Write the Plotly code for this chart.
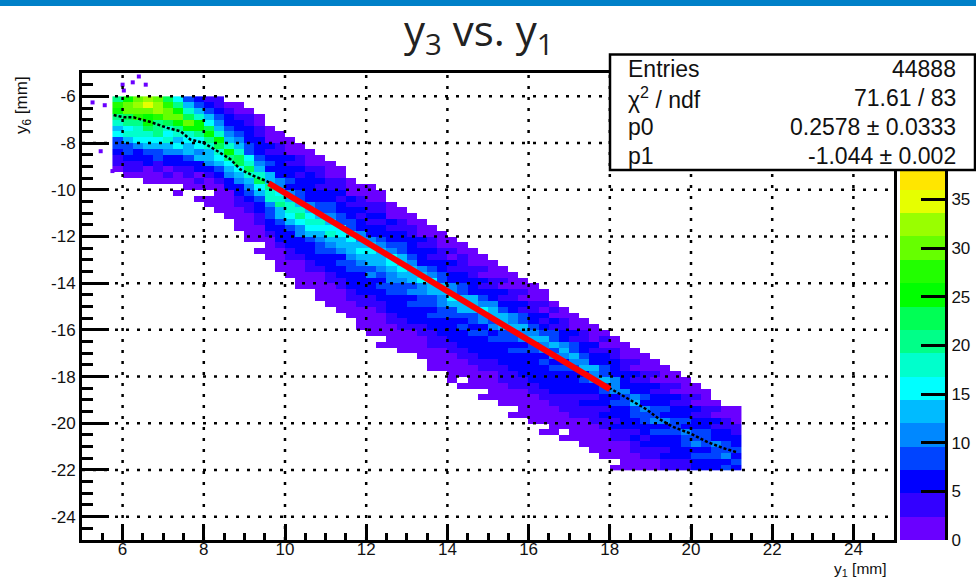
import plotly.graph_objects as go

# ---------- data ----------
x_first_edge = 5.75
y_first_edge = -6.0
bin_size = 0.25
y_last_edge = -22.0

col_top = [-6,-6,-6,-6,-6,-6,-6,-6,-6,-6,-6,-6.25,-6.25,-6.5,-6.75,-7.25,-7.5,-7.75,-8,-8.25,-8.5,-8.75,-9,-9.5,-9.75,-9.75,-10,-10.5,-10.75,-11,-11.25,-11.5,-11.75,-12,-12.25,-12.5,-12.75,-13,-13.25,-13.5,-13.75,-14,-14.25,-14.75,-15,-15.25,-15.5,-15.75,-16,-16.25,-16.5,-16.75,-17,-17.25,-17.5,-17.75,-18,-18.25,-18.5,-19,-19.25,-19.25]
col_counts = [
[21,27,24,20,18,14,15,9,8,7,4,4,2],
[26,31,29,22,20,16,17,12,8,8,5,4,3,1],
[30,33,30,27,21,19,17,15,10,7,7,3,4,1],
[32,35,31,26,24,22,18,16,12,9,5,6,2,2,1],
[30,32,33,27,21,20,21,15,13,8,8,4,3,1,2],
[23,28,31,29,22,19,16,18,12,11,6,6,2,3,1],
[15,21,24,30,25,20,18,13,16,10,7,5,4,1,2,0,1],
[9,13,19,23,29,24,17,15,12,13,8,7,4,3,1,2],
[6,8,12,17,25,26,21,16,15,11,12,7,5,2,3,1,0,1],
[4,7,8,13,15,22,24,20,17,13,14,10,6,4,1,2,0,1,1],
[3,4,7,8,11,13,19,24,23,17,16,12,9,5,4,1,2,1,1,1],
[1,4,5,6,9,10,14,18,25,21,15,13,11,7,6,2,1,2,1,1],
[2,2,4,6,5,8,11,12,17,23,22,16,14,10,6,5,3,3,2,1,1,1],
[1,3,3,5,7,6,9,9,15,18,23,18,13,11,8,7,3,4,2,2,1,1,1],
[1,1,3,4,5,7,6,8,10,14,19,22,16,14,9,6,5,4,3,2,1,1,0,1],
[1,2,2,5,4,6,8,7,12,14,20,18,17,11,9,8,6,5,3,2,2,1,1],
[1,1,3,4,6,5,7,6,10,11,15,18,21,14,12,8,7,5,5,3,1,2,1,1],
[1,2,2,5,4,6,5,8,7,10,12,17,19,16,13,9,6,7,5,3,3,1,1,1],
[1,2,3,3,5,4,7,6,9,9,14,18,20,15,11,10,6,6,5,4,2,2,1,1,1],
[1,2,1,4,5,6,5,7,7,11,13,16,19,15,12,9,7,6,6,4,3,2,1,1],
[1,1,3,3,5,4,7,6,9,9,12,19,16,14,10,8,8,6,5,4,2,2,1,1,1],
[1,2,2,4,4,6,5,8,8,10,14,15,17,13,10,8,6,7,5,4,3,2,1,1,1],
[1,1,3,3,5,4,6,6,9,9,15,16,14,12,11,7,8,6,6,4,3,2,1,1,1],
[1,2,2,5,3,6,5,9,9,13,15,14,12,10,8,9,6,6,5,3,3,2,1,1],
[1,2,3,3,5,4,7,6,10,11,14,15,12,11,8,7,6,6,5,4,3,2,1,1,1],
[1,1,2,4,3,5,4,7,7,11,12,15,13,12,9,10,6,7,6,4,3,2,2,1,1,1],
[1,1,3,3,5,4,6,6,9,10,14,14,13,10,9,7,8,6,5,4,3,2,2,1,1,0,1],
[1,2,2,5,4,7,6,9,10,15,15,13,10,11,8,8,6,6,5,4,3,2,1,1,1],
[1,2,3,3,6,5,8,8,12,13,16,12,11,8,9,6,7,6,5,3,3,2,1,1,1],
[1,1,4,3,5,6,5,9,10,14,13,13,9,10,7,8,6,6,5,3,2,1,1,1],
[1,2,2,5,3,6,7,7,11,12,15,11,11,8,9,6,7,5,4,3,2,2,1,1],
[1,2,3,3,5,4,6,9,10,15,13,13,9,9,7,8,6,5,4,3,3,1,1,1,1],
[1,1,2,4,3,6,5,8,9,14,14,11,11,8,8,6,7,5,4,3,2,1,1,1],
[1,2,3,2,5,4,7,7,11,11,15,12,9,9,6,7,6,5,4,3,2,2,1,1,1],
[1,1,3,3,4,6,5,8,9,14,13,13,9,7,8,5,6,5,4,3,2,1,1,0,1],
[1,2,1,4,3,5,7,6,12,13,14,9,9,7,8,5,6,5,3,3,2,1,1,1],
[1,1,3,2,5,4,6,9,11,15,10,10,7,8,5,6,5,5,3,3,1,1,1,0,1],
[1,2,2,4,3,6,6,10,12,14,9,10,7,8,5,6,5,4,3,2,2,1,1,1],
[1,1,3,2,5,4,7,8,13,12,12,8,9,6,7,5,6,4,3,3,2,1,1,1],
[1,2,1,4,3,6,5,10,11,14,9,9,7,8,5,6,5,4,3,3,1,1,1,0,1],
[1,1,3,2,5,4,8,8,14,11,11,7,8,6,7,5,5,4,3,2,2,1,1,1],
[1,2,2,4,3,6,5,9,11,13,9,9,6,7,5,6,5,4,3,2,1,1,1,1],
[1,1,3,2,5,4,7,8,13,10,10,7,8,5,7,5,5,4,3,2,1,1,1,0,1],
[1,3,2,5,4,8,9,13,9,10,7,8,5,6,5,5,4,3,2,2,1,1,1],
[1,2,4,3,6,6,11,12,11,7,8,6,7,5,5,3,4,3,2,1,1,0,1],
[1,2,2,5,4,8,8,13,10,9,6,7,5,6,3,4,3,3,2,1,1,1],
[1,1,4,3,6,5,9,10,12,7,8,6,7,4,5,3,3,2,2,1,1,1],
[1,2,1,5,3,7,7,12,11,10,6,7,4,6,3,4,3,2,1,2,1,1],
[1,3,2,4,5,5,9,9,13,8,8,5,7,4,5,3,3,2,2,1,1,1],
[1,1,3,3,5,7,6,10,10,11,7,8,5,6,3,5,3,3,1,1,1,0,1],
[1,2,1,4,4,6,7,7,11,9,9,6,7,5,6,3,4,2,2,1,1,1],
[1,1,3,2,5,4,7,6,10,12,8,8,6,7,4,5,3,3,1,1,1],
[1,2,1,4,3,6,5,8,7,11,8,9,6,7,4,5,3,3,1,2],
[1,1,3,2,5,4,6,7,9,8,11,7,8,5,6,4,4,2,2],
[1,2,1,4,3,6,5,8,7,10,7,8,6,7,4,5,3,3],
[1,1,3,2,5,4,7,6,9,9,9,6,7,5,6,3,3],
[1,2,2,4,3,6,5,8,7,10,8,9,6,7,4,4],
[1,1,3,2,5,4,7,6,9,9,10,7,8,5,5],
[1,2,1,4,3,6,5,8,8,9,7,9,6,6],
[1,3,2,5,4,7,7,10,8,9,6,7],
[1,1,3,3,6,5,8,8,11,7,8],
[1,2,1,4,3,6,5,8,7,8,5],
]

stray_x = [6.0, 6.25, 6.57, 6.4, 6.03, 5.26, 5.56, 5.46, 5.75]
stray_y = [-5.5, -5.4, -5.5, -5.15, -5.75, -6.26, -6.38, -8.35, -9.2]

profile_x = [5.78,6.03,6.27,6.69,7.1,7.43,7.67,8.0,8.34,8.66,8.9,9.22,9.57,11,12,14,16,18,18.4,18.9,19.2,19.55,20,20.4,20.8,21.15]
profile_y = [-6.8,-6.9,-6.9,-7.1,-7.35,-7.5,-7.85,-8.0,-8.35,-8.7,-9.13,-9.4,-9.65,-11.2,-12.25,-14.35,-16.45,-18.5,-18.9,-19.4,-19.8,-20.15,-20.45,-20.8,-21.07,-21.25]

fit_x = [9.6, 18.0]
fit_y = [-9.72, -18.54]

x_ticks = [6, 8, 10, 12, 14, 16, 18, 20, 22, 24]
y_ticks = [-6, -8, -10, -12, -14, -16, -18, -20, -22, -24]
y_tick_text = ["-6", "-8", "-10", "-12", "-14", "-16", "-18", "-20", "-22", "-24"]
z_ticks = [0, 5, 10, 15, 20, 25, 30, 35]

palette = ["#6a00ff","#3300ff","#0000ff","#0044ff","#0088ff","#00bbff","#00ffff","#00ffcc",
           "#00ff88","#00ff55","#00ff00","#22ff00","#66ff00","#99ff00","#e6ff00","#ffe600",
           "#ffbb00","#ff8800","#ff4400","#ff0000"]
z_max = 48.0

stats_left = ["Entries", "\u03c7<sup>2</sup> / ndf", "p0", "p1"]
stats_right = ["44888", "71.61 / 83", "0.2578 \u00b1 0.0333", "-1.044 \u00b1 0.002"]

# ---------- build ----------
W, H = 976, 580
L, R, T, B = 82, 945, 73, 540
PLOT_R = 894
BAR_L = 900
def px(v): return (v - L) / (R - L)
def py(v): return (B - v) / (B - T)

n_rows = int(round((y_first_edge - y_last_edge) / bin_size))
n_cols = len(col_counts)
z = [[None] * n_cols for _ in range(n_rows)]
for c, (top, vals) in enumerate(zip(col_top, col_counts)):
    start = int(round((y_first_edge - top) / bin_size))
    for k, v in enumerate(vals):
        r = start + k
        if r < n_rows and v > 0:
            z[r][c] = v

n = len(palette)
scale = []
for i, col in enumerate(palette):
    scale += [[i / n, col], [(i + 1) / n, col]]

FONT = "Liberation Sans"
INK = "#111111"
fig = go.Figure()
fig.add_trace(go.Heatmap(z=z, x0=x_first_edge + bin_size / 2, dx=bin_size,
                         y0=y_first_edge - bin_size / 2, dy=-bin_size,
                         zmin=0, zmax=z_max, colorscale=scale, showscale=False,
                         xgap=0, ygap=0, hoverongaps=False))
fig.add_trace(go.Scatter(x=stray_x, y=stray_y, mode="markers",
                         marker=dict(symbol="square", size=4, color=palette[0]), showlegend=False))

grid_style = dict(color="black", width=2.5, dash="3px,8px")
gx, gy = [], []
for v in x_ticks:
    gx += [v, v, None]; gy += [-25, -5, None]
fig.add_trace(go.Scatter(x=gx, y=gy, mode="lines", line=grid_style, showlegend=False, hoverinfo="skip"))
gx, gy = [], []
for v in y_ticks:
    gx += [5, 25, None]; gy += [v, v, None]
fig.add_trace(go.Scatter(x=gx, y=gy, mode="lines", line=grid_style, showlegend=False, hoverinfo="skip"))

fig.add_trace(go.Scatter(x=profile_x, y=profile_y, mode="lines",
                         line=dict(color="black", width=2.5, dash="3px,2px"), showlegend=False))
fig.add_trace(go.Scatter(x=fit_x, y=fit_y, mode="lines",
                         line=dict(color="#ff0000", width=6), showlegend=False))

lvl = z_max / n
fig.add_trace(go.Heatmap(z=[[(i + 0.5) * lvl] for i in range(n)], x=[0.5],
                         y=[(i + 0.5) * lvl for i in range(n)],
                         zmin=0, zmax=z_max, colorscale=scale, showscale=False,
                         xaxis="x2", yaxis="y2", hoverinfo="skip"))

tick_font = dict(family=FONT, size=17, color=INK)
fig.update_layout(
    width=W, height=H, paper_bgcolor="white", plot_bgcolor="white", showlegend=False,
    margin=dict(l=L, r=W - R, t=T, b=H - B, pad=0, autoexpand=False),
    xaxis=dict(domain=[0, px(PLOT_R)], range=[5, 25], tickvals=x_ticks, ticks="inside", ticklen=16,
               tickwidth=3, tickcolor="black", showgrid=False, zeroline=False, showline=True, linewidth=3,
               linecolor="black", mirror=True, tickfont=tick_font, layer="above traces", automargin=False,
               ticklabelstandoff=-8,
               minor=dict(dtick=0.5, ticks="inside", ticklen=7, tickwidth=2.5, tickcolor="black", showgrid=False)),
    yaxis=dict(domain=[0, 1], range=[-25, -5], tickvals=y_ticks, ticktext=y_tick_text, ticks="inside", ticklen=27,
               tickwidth=3, tickcolor="black", showgrid=False, zeroline=False, showline=True, linewidth=3,
               linecolor="black", mirror=True, tickfont=tick_font, layer="above traces", automargin=False,
               minor=dict(dtick=0.5, ticks="inside", ticklen=11, tickwidth=2.5, tickcolor="black", showgrid=False)),
    xaxis2=dict(domain=[px(BAR_L), 1], range=[0, 1], anchor="y2", visible=False, automargin=False),
    yaxis2=dict(domain=[0, 1], range=[0, z_max], anchor="x2", side="right", tickvals=z_ticks, ticks="inside",
                ticklen=24, tickwidth=3, tickcolor="black", showgrid=False, zeroline=False, showline=True,
                linewidth=3, linecolor="black", tickfont=tick_font, layer="above traces", automargin=False),
    shapes=[
        dict(type="rect", xref="paper", yref="paper", x0=px(0), x1=px(976), y0=py(0), y1=py(6),
             fillcolor="#0080c8", line=dict(width=0), layer="above"),
        dict(type="rect", xref="paper", yref="paper", x0=px(610), x1=px(975), y0=py(54.5), y1=py(170),
             fillcolor="white", line=dict(color="black", width=2.5), layer="above"),
    ],
)

ann = [
    dict(x=px(479), y=py(32), text="y<sub>3</sub> vs. y<sub>1</sub>", xanchor="center", yanchor="middle",
         font=dict(family="Open Sans", size=42, color="#222222")),
    dict(x=px(889), y=py(569), text="y<sub>1</sub> [mm]", xanchor="right", yanchor="middle",
         font=dict(family=FONT, size=15.5, color=INK)),
    dict(x=px(23), y=py(105), text="y<sub>6</sub> [mm]", textangle=-90, xanchor="center", yanchor="middle",
         font=dict(family=FONT, size=17, color=INK)),
]
for row_y, a, b in zip([69, 98, 127, 156], stats_left, stats_right):
    ann.append(dict(x=px(626), y=py(row_y), text=a, xanchor="left", yanchor="middle",
                    font=dict(family=FONT, size=23, color=INK)))
    ann.append(dict(x=px(958), y=py(row_y), text=b, xanchor="right", yanchor="middle",
                    font=dict(family=FONT, size=23, color=INK)))
for a in ann:
    a.update(xref="paper", yref="paper", showarrow=False)
fig.update_layout(annotations=ann)

fig.write_html("out.html", config=dict(displayModeBar=False), post_script="document.body.style.margin='0';")
